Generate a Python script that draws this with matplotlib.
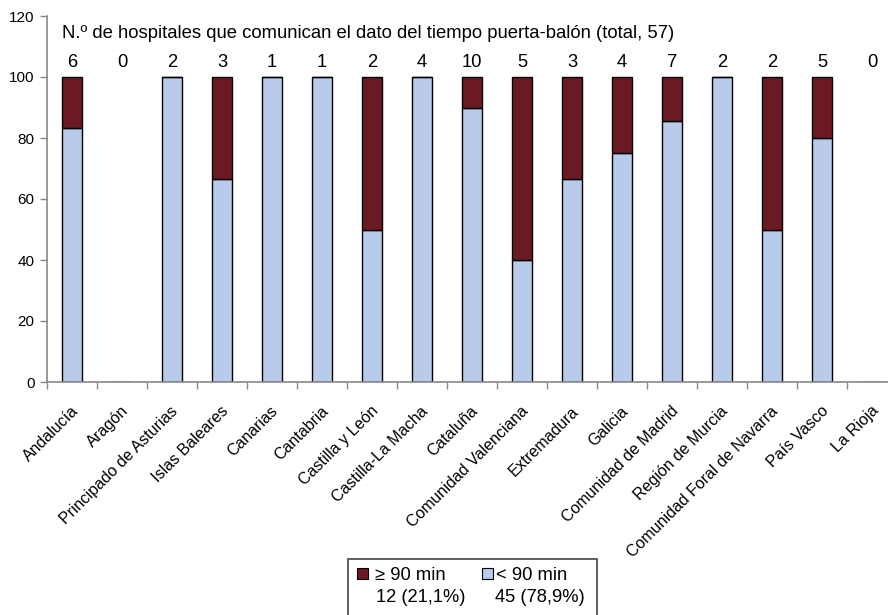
import matplotlib
matplotlib.use("Agg")
import matplotlib.pyplot as plt
from matplotlib.patches import Rectangle

plt.rcParams["font.family"] = ["Liberation Sans", "DejaVu Sans"]

# ---- data ----
regions = ["Andalucía", "Aragón", "Principado de Asturias", "Islas Baleares",
           "Canarias", "Cantabria", "Castilla y León", "Castilla-La Macha",
           "Cataluña", "Comunidad Valenciana", "Extremadura", "Galicia",
           "Comunidad de Madrid", "Región de Murcia", "Comunidad Foral de Navarra",
           "País Vasco", "La Rioja"]
n_hosp = [6, 0, 2, 3, 1, 1, 2, 4, 10, 5, 3, 4, 7, 2, 2, 5, 0]
pct_lt90 = [83.3, 0, 100, 66.7, 100, 100, 50, 100, 90, 40, 66.7, 75, 85.7, 100, 50, 80, 0]
pct_ge90 = [16.7, 0, 0, 33.3, 0, 0, 50, 0, 10, 60, 33.3, 25, 14.3, 0, 50, 20, 0]

legend_labels = ["≥ 90 min", "< 90 min"]
legend_counts = ["12 (21,1%)", "45 (78,9%)"]

RED = "#6B1A24"
BLUE = "#B9CBEA"
GRAY = "#888888"

W, H = 888, 615
fig = plt.figure(figsize=(W / 100, H / 100), dpi=100)
ax = fig.add_axes([47 / W, 1 - 382 / H, (897 - 47) / W, (382 - 16) / H])

x = list(range(len(regions)))
ax.bar(x, pct_lt90, width=0.41, color=BLUE, edgecolor="black", linewidth=1)
ax.bar(x, pct_ge90, width=0.41, bottom=pct_lt90, color=RED, edgecolor="black", linewidth=1)

ax.set_xlim(-0.5, len(regions) - 0.5)
ax.set_ylim(0, 120)
ax.set_yticks(range(0, 121, 20))

for sp in ["top", "right"]:
    ax.spines[sp].set_visible(False)
for sp in ["left", "bottom"]:
    ax.spines[sp].set_color(GRAY)
    ax.spines[sp].set_linewidth(1.2)

ax.set_xticks([i + 0.5 for i in range(-1, len(regions))])
ax.set_xticklabels([])
ax.tick_params(axis="x", length=5, color=GRAY, width=1)
ax.tick_params(axis="y", length=5, color=GRAY, width=1, labelsize=11, pad=4)

for i, name in enumerate(regions):
    ax.text(i - 0.03, -7.0, name, rotation=45, ha="right", va="top",
            rotation_mode="anchor", fontsize=11.5)

for i, n in enumerate(n_hosp):
    ax.text(i, 104.8, str(n), ha="center", va="center", fontsize=13.2)

ax.text(-0.2, 114.4, "N.º de hospitales que comunican el dato del tiempo puerta-balón (total, 57)",
        ha="left", va="center", fontsize=13.3)

# legend box
fig.patches.append(Rectangle((348 / W, 1 - 640 / H), (597 - 348) / W, 81 / H,
                             transform=fig.transFigure, facecolor="white",
                             edgecolor="#444444", linewidth=1.2))
colors = [RED, BLUE]
sq_x = [357, 482]
lab_x = [375, 496]
cnt_x = [376, 495]
for c, lab, cnt, x0, x1, x2 in zip(colors, legend_labels, legend_counts, sq_x, lab_x, cnt_x):
    fig.patches.append(Rectangle((x0 / W, 1 - 579 / H), 11 / W, 11 / H,
                                 transform=fig.transFigure, facecolor=c,
                                 edgecolor="black", linewidth=0.8))
    fig.text(x1 / W, 1 - 576 / H, lab, ha="left", va="center", fontsize=13.2)
    fig.text(x2 / W, 1 - 598 / H, cnt, ha="left", va="center", fontsize=13.2)

fig.savefig("out.png", dpi=100)
